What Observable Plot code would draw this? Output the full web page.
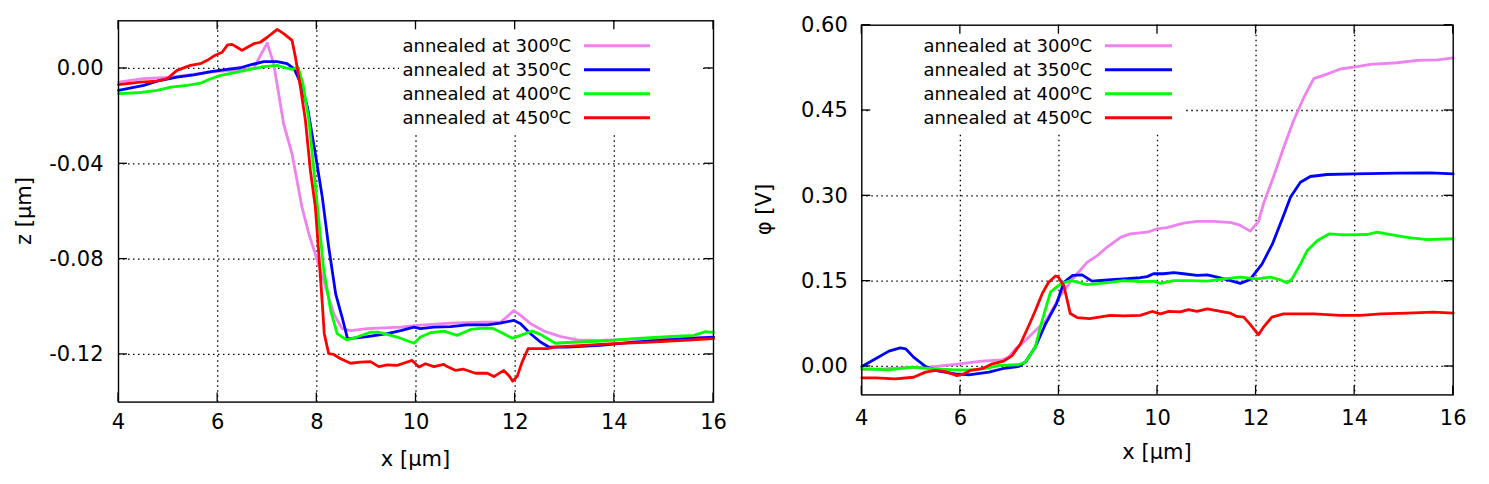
<!DOCTYPE html>
<html><head><meta charset="utf-8">
<script src="https://cdn.jsdelivr.net/npm/d3@7"></script>
<script src="https://cdn.jsdelivr.net/npm/@observablehq/plot@0.6"></script>
<style>
body{margin:0;background:#fff;}
#wrap{position:relative;width:1489px;height:484px;overflow:hidden;background:#fff;}
#wrap svg{position:absolute;top:0;overflow:visible;}
</style>
</head><body><div id="wrap"></div>
<script>
// ---------- shared ----------
const seriesNames = ["300", "350", "400", "450"];
const seriesColors = ["#ee82ee", "#0000ff", "#00ff00", "#ff0000"];
const xTicks = [4, 6, 8, 10, 12, 14, 16];

// ---------- left panel: z [μm] ----------
const zTicks = [-0.12, -0.08, -0.04, 0.00];
const zX300 = [4.0,4.5,5.0,5.5,6.0,6.5,6.73,6.85,7.0,7.13,7.23,7.33,7.5,7.6,7.7,7.84,8.01,8.18,8.34,8.51,8.68,9.02,9.69,10.02,10.7,11.37,11.7,11.87,11.97,12.11,12.31,12.58,12.92,13.25,13.72,14.7,16.0];
const z300  = [-0.0057,-0.0043,-0.0038,-0.0025,-0.0012,-0.0006,0.0,0.005,0.0106,0.002,-0.0106,-0.0232,-0.0358,-0.047,-0.0582,-0.0694,-0.0806,-0.0918,-0.1029,-0.1092,-0.110,-0.1092,-0.1085,-0.1078,-0.1069,-0.1065,-0.1065,-0.1036,-0.1016,-0.1036,-0.1071,-0.1102,-0.1125,-0.1139,-0.1141,-0.1134,-0.1127];
const zX350 = [4.0,4.51,4.78,5.18,5.52,5.86,6.19,6.46,6.66,6.93,7.2,7.4,7.54,7.67,7.81,7.97,8.11,8.24,8.38,8.51,8.62,9.02,9.42,9.69,9.96,10.09,10.36,10.7,11.03,11.44,11.7,11.97,12.11,12.31,12.51,12.68,13.05,13.72,14.39,15.07,16.0];
const z350  = [-0.0092,-0.0071,-0.0053,-0.0036,-0.0027,-0.0013,-0.0004,0.0003,0.0015,0.0029,0.0029,0.002,-0.0001,-0.006,-0.0162,-0.0358,-0.054,-0.075,-0.0946,-0.1044,-0.1135,-0.1125,-0.1113,-0.110,-0.1085,-0.1092,-0.1085,-0.1083,-0.1076,-0.1076,-0.1069,-0.1057,-0.1071,-0.1113,-0.1148,-0.1169,-0.1169,-0.1162,-0.1148,-0.1139,-0.1127];
const zX400 = [4.0,4.38,4.78,5.05,5.39,5.65,5.86,6.06,6.39,6.73,6.93,7.2,7.4,7.5,7.62,7.72,7.84,7.94,8.04,8.14,8.28,8.41,8.6,8.81,9.08,9.25,9.42,9.62,9.96,10.09,10.29,10.56,10.83,11.1,11.3,11.54,11.77,11.94,12.11,12.34,12.51,12.81,13.05,13.72,14.39,15.07,15.6,15.84,16.0];
const z400  = [-0.0106,-0.0102,-0.0092,-0.0078,-0.0071,-0.0062,-0.0043,-0.0029,-0.0015,-0.0001,0.0008,0.0013,0.0001,-0.0004,0.0005,-0.0065,-0.0218,-0.0428,-0.0638,-0.0848,-0.1016,-0.1113,-0.1139,-0.1127,-0.1107,-0.1107,-0.1116,-0.1127,-0.1153,-0.1127,-0.1109,-0.1102,-0.112,-0.1095,-0.1091,-0.109,-0.1113,-0.1132,-0.112,-0.1102,-0.1116,-0.1153,-0.115,-0.1144,-0.1134,-0.1125,-0.112,-0.1104,-0.1107];
const zX450 = [4.0,4.44,4.78,4.98,5.18,5.45,5.65,5.79,5.92,6.09,6.2,6.29,6.39,6.49,6.6,6.73,6.86,7.0,7.17,7.2,7.33,7.5,7.57,7.67,7.77,7.87,7.97,8.04,8.11,8.15,8.24,8.34,8.48,8.68,8.88,9.08,9.25,9.42,9.62,9.75,9.92,10.06,10.19,10.36,10.56,10.63,10.8,10.96,11.2,11.44,11.57,11.77,11.87,11.95,12.04,12.14,12.26,12.65,12.78,13.38,13.99,14.73,15.4,16.0];
const z450  = [-0.0068,-0.0057,-0.0053,-0.0043,-0.0008,0.0013,0.002,0.0034,0.0052,0.0068,0.0099,0.0101,0.0089,0.0076,0.0089,0.0104,0.011,0.0131,0.0159,0.0164,0.0146,0.0118,0.0045,-0.008,-0.0218,-0.0428,-0.0582,-0.0778,-0.0987,-0.1113,-0.1197,-0.12,-0.1218,-0.1237,-0.1232,-0.123,-0.1251,-0.1244,-0.1246,-0.1237,-0.1225,-0.1253,-0.1239,-0.1251,-0.1242,-0.1251,-0.1267,-0.1262,-0.1279,-0.1279,-0.1293,-0.1267,-0.1288,-0.1312,-0.1293,-0.1232,-0.1176,-0.1176,-0.1169,-0.1162,-0.1155,-0.1148,-0.1141,-0.1134];

// ---------- right panel: φ [V] ----------
const phiTicks = [0.00, 0.15, 0.30, 0.45, 0.60];
const pX300 = [4.0,4.5,5.0,5.36,5.9,6.44,6.85,6.98,7.12,7.25,7.52,7.74,8.03,8.3,8.57,8.78,8.98,9.25,9.45,9.79,9.99,10.19,10.53,10.8,11.14,11.5,11.68,11.88,12.05,12.15,12.36,12.56,12.76,12.97,13.17,13.44,13.71,14.05,14.32,14.86,15.27,15.68,16.0];
const p300  = [-0.005,-0.004,-0.002,-0.001,0.0035,0.0094,0.0117,0.0164,0.031,0.04,0.063,0.081,0.125,0.156,0.183,0.195,0.21,0.227,0.233,0.236,0.242,0.244,0.252,0.255,0.255,0.253,0.248,0.238,0.255,0.286,0.335,0.385,0.432,0.473,0.506,0.514,0.523,0.527,0.531,0.534,0.538,0.539,0.5426];
const pX350 = [4.0,4.28,4.55,4.78,4.89,5.05,5.29,5.56,5.9,6.17,6.58,6.85,7.18,7.32,7.52,7.73,7.95,8.1,8.28,8.47,8.67,8.98,9.31,9.65,9.79,9.92,10.12,10.33,10.53,10.8,11.01,11.21,11.48,11.68,11.88,12.12,12.33,12.56,12.7,12.9,13.1,13.44,14.0,14.86,15.54,16.0];
const p350  = [0.0,0.0135,0.027,0.0328,0.031,0.0164,0.0,-0.0082,-0.0129,-0.0146,-0.01,-0.004,0.0,0.0076,0.034,0.075,0.11,0.148,0.16,0.161,0.15,0.152,0.154,0.156,0.158,0.163,0.163,0.165,0.163,0.16,0.161,0.157,0.151,0.146,0.153,0.18,0.215,0.266,0.298,0.324,0.334,0.3375,0.3387,0.34,0.3405,0.3387];
const pX400 = [4.0,4.55,5.02,5.43,5.9,6.3,6.58,6.78,7.18,7.32,7.52,7.64,7.83,8.05,8.25,8.57,8.95,9.31,9.65,9.92,10.06,10.33,10.67,11.01,11.34,11.68,12.02,12.29,12.5,12.63,12.73,12.9,13.04,13.24,13.48,13.78,14.25,14.46,14.73,15.06,15.47,16.0];
const p400  = [-0.004,-0.006,-0.001,-0.004,-0.006,-0.006,-0.0023,0.0018,0.003,0.0076,0.034,0.075,0.131,0.146,0.151,0.144,0.147,0.151,0.149,0.15,0.146,0.151,0.151,0.15,0.154,0.157,0.154,0.157,0.152,0.147,0.154,0.18,0.204,0.221,0.233,0.2315,0.232,0.236,0.232,0.227,0.223,0.2245];
const pX450 = [4.0,4.28,4.68,5.05,5.29,5.49,5.7,5.93,6.04,6.2,6.44,6.65,6.88,7.05,7.22,7.39,7.52,7.66,7.79,7.93,7.98,8.1,8.23,8.37,8.62,9.04,9.31,9.65,9.89,10.06,10.23,10.46,10.63,10.8,11.01,11.28,11.48,11.61,11.75,11.88,12.05,12.15,12.32,12.56,13.17,13.71,14.12,14.53,15.06,15.6,16.0];
const p450  = [-0.02,-0.02,-0.0217,-0.019,-0.01,-0.007,-0.009,-0.016,-0.014,-0.007,-0.004,0.0047,0.0094,0.019,0.04,0.072,0.098,0.128,0.148,0.159,0.158,0.142,0.093,0.086,0.084,0.0897,0.089,0.0897,0.0967,0.0926,0.0967,0.096,0.1,0.0967,0.1014,0.097,0.0937,0.088,0.0867,0.074,0.0557,0.069,0.0867,0.0926,0.0926,0.0897,0.0897,0.0926,0.0937,0.0955,0.0937];

function toRows(xs, ys, name) { return xs.map((x, i) => ({x, y: ys[i], name})); }

function panel(cfg) {
  const rows = cfg.series.flatMap(s => toRows(s[0], s[1], s[2]));
  const mT = cfg.marginTop, mB = cfg.marginBottom, mL = cfg.marginLeft, mR = cfg.marginRight;
  const W = cfg.width, H = 484;
  const svgEl = Plot.plot({
    width: W, height: H,
    marginTop: mT, marginBottom: mB, marginLeft: mL, marginRight: mR,
    style: {fontFamily: "'DejaVu Sans', sans-serif", fontSize: "21px", background: "white", color: "black", overflow: "visible"},
    x: {domain: [4, 16]},
    y: {domain: cfg.yDomain},
    color: {domain: seriesNames, range: seriesColors},
    marks: [
      Plot.gridX(xTicks.slice(1, -1), {stroke: "#000", strokeOpacity: 1, strokeWidth: 1.3, strokeDasharray: "1.5,3.5"}),
      Plot.gridY(cfg.yGrid, {stroke: "#000", strokeOpacity: 1, strokeWidth: 1.3, strokeDasharray: "1.5,3.5"}),
      Plot.axisX(xTicks, {tickSize: 0, tickPadding: cfg.xPad, label: null, tickFormat: d => String(d), fontSize: 21}),
      Plot.axisY(cfg.yTicks, {tickSize: 0, tickPadding: cfg.yPad, label: null, tickFormat: d => d.toFixed(2), fontSize: 21}),
      Plot.line(rows, {x: "x", y: "y", z: "name", stroke: "name", strokeWidth: 2.8, strokeLinejoin: "round"}),
      Plot.frame({stroke: "#000", strokeWidth: 1.4})
    ]
  });
  const svg = d3.select(svgEl);
  const xs = svgEl.scale("x"), ys = svgEl.scale("y");
  const top = mT, bot = H - mB, left = mL, right = W - mR;
  // opaque key box hides the grid behind the legend
  svg.insert("rect", 'g[aria-label="line"]')
    .attr("x", cfg.box[0]).attr("y", top + 1).attr("width", cfg.box[1] - cfg.box[0]).attr("height", cfg.box[2] - top)
    .attr("fill", "white");
  // inward major ticks on all four sides
  const tg = svg.append("g").attr("stroke", "#000").attr("stroke-width", 1.3);
  xTicks.forEach(t => {
    const px = xs.apply(t);
    tg.append("line").attr("x1", px).attr("x2", px).attr("y1", bot).attr("y2", bot - 9);
    tg.append("line").attr("x1", px).attr("x2", px).attr("y1", top).attr("y2", top + 9);
  });
  cfg.yTicks.forEach(t => {
    const py = ys.apply(t);
    tg.append("line").attr("x1", left).attr("x2", left + 9).attr("y1", py).attr("y2", py);
    tg.append("line").attr("x1", right).attr("x2", right - 9).attr("y1", py).attr("y2", py);
  });
  // legend
  const lg = svg.append("g").attr("font-family", "'DejaVu Sans', sans-serif").attr("font-size", 18).attr("fill", "#000");
  seriesNames.forEach((n, i) => {
    const cy = cfg.legendY + i * 24;
    const t = lg.append("text").attr("x", cfg.legendTextX).attr("y", cy + 6.5).attr("text-anchor", "end");
    t.append("tspan").text("annealed at " + n);
    t.append("tspan").attr("font-size", 14).attr("dy", -6).text("o");
    t.append("tspan").attr("dy", 6).text("C");
    lg.append("line").attr("x1", cfg.sample[0]).attr("x2", cfg.sample[1]).attr("y1", cy).attr("y2", cy)
      .attr("stroke", seriesColors[i]).attr("stroke-width", 3);
  });
  // axis titles
  svg.append("text").attr("x", (left + right) / 2).attr("y", cfg.xLabelY).attr("text-anchor", "middle")
    .attr("font-family", "'DejaVu Sans', sans-serif").attr("font-size", 21).text("x [μm]");
  svg.append("text").attr("transform", `translate(${cfg.yLabelX},${(top + bot) / 2}) rotate(-90)`).attr("text-anchor", "middle")
    .attr("font-family", "'DejaVu Sans', sans-serif").attr("font-size", 21).text(cfg.yLabel);
  svgEl.style.left = cfg.offset + "px";
  document.getElementById("wrap").appendChild(svgEl);
}

panel({
  offset: 0, width: 740,
  marginTop: 20.3, marginBottom: 82.4, marginLeft: 118, marginRight: 27,
  yDomain: [-0.14, 0.02], yTicks: zTicks, yGrid: zTicks,
  series: [[zX300, z300, "300"], [zX350, z350, "350"], [zX400, z400, "400"], [zX450, z450, "450"]],
  xPad: 12, yPad: 15,
  box: [399, 700, 133],
  legendTextX: 571, sample: [584, 650], legendY: 45.8,
  xLabelY: 466, yLabelX: 31, yLabel: "z [μm]"
});

panel({
  offset: 740, width: 749,
  marginTop: 24.7, marginBottom: 89.6, marginLeft: 121.3, marginRight: 36.3,
  yDomain: [-0.05, 0.6], yTicks: phiTicks, yGrid: phiTicks.slice(0, -1),
  series: [[pX300, p300, "300"], [pX350, p350, "350"], [pX400, p400, "400"], [pX450, p450, "450"]],
  xPad: 15.5, yPad: 14,
  box: [130, 443, 133],
  legendTextX: 352, sample: [365, 432], legendY: 45.8,
  xLabelY: 459, yLabelX: 31, yLabel: "φ [V]"
});
</script></body></html>
